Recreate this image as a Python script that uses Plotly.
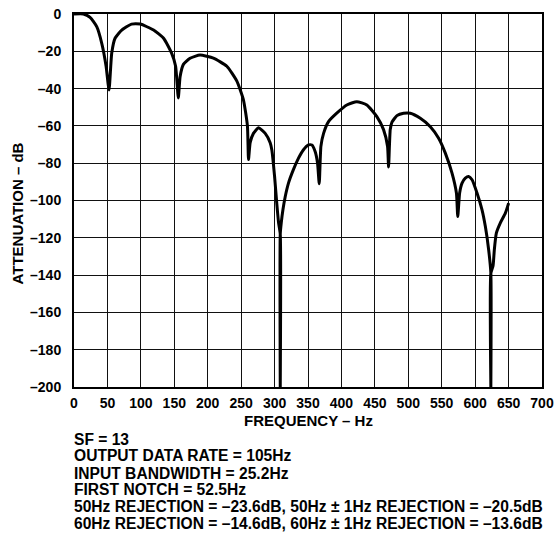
import plotly.graph_objects as go

# Frequency (Hz) and attenuation (dB)
freq_hz = [0, 14, 24, 34, 41.5, 48, 52.4, 56.4, 61.4, 71.4, 86, 99, 119, 134, 146, 152, 156,
           158.7, 163.6, 173.6, 188.6, 208.5, 228.6, 243.6, 253.4, 259.4, 261,
           263.5, 268.4, 276, 286, 293.4, 296, 300, 303.4, 306, 308.5, 308.5, 308.5, 310, 312.5,
           315.9, 320.8, 328, 335.8, 343, 350.7, 355.8, 360.8, 364.3, 366.8,
           369.3, 373.3, 380.7, 393, 408, 423, 438, 453, 463, 469, 470.5,
           473, 475.6, 483, 493, 503, 518, 533, 545.4, 555.4, 565.4, 572, 574,
           576.8, 580.4, 585.3, 590.3, 595.4, 602.8, 610.3, 615.3, 620.2, 623.5, 623.5, 623.5,
           626.8, 628.7, 631.7, 637.7, 645.2, 650.1]
atten_db = [0, 0, -1.8, -6.8, -15.7, -28, -40.7, -21, -13, -8.6, -5.4, -5.4, -8.6, -13, -21, -28, -45,
            -33.6, -27, -23.7, -22, -23.7, -28, -36, -46, -60, -78,
            -69, -64, -61, -64, -69, -73, -87, -102, -112, -118, -200, -118, -112, -105,
            -98, -90.7, -83.6, -77.3, -72.9, -70.2, -70.2, -73.8, -80, -91,
            -71, -64, -57.7, -53.2, -48.8, -47, -48.8, -55, -62, -71, -82,
            -62, -58, -54.5, -53.2, -53.2, -55.9, -60.4, -66.6, -74.6, -85.3, -96, -108.6,
            -96, -90.7, -88, -87.1, -88.9, -96, -105, -114, -126.4, -139, -200, -139,
            -135, -126.4, -117.5, -112, -106.8, -101.4]

x_ticks = [0, 50, 100, 150, 200, 250, 300, 350, 400, 450, 500, 550, 600, 650, 700]
y_ticks = [0, -20, -40, -60, -80, -100, -120, -140, -160, -180, -200]
y_ticktext = ["0" if v == 0 else "\u2013" + str(-v) for v in y_ticks]

x_title = "FREQUENCY \u2013 Hz"
y_title = "ATTENUATION \u2013 dB"
notes = [
    "SF = 13",
    "OUTPUT DATA RATE = 105Hz",
    "INPUT BANDWIDTH = 25.2Hz",
    "FIRST NOTCH = 52.5Hz",
    "50Hz REJECTION = \u201323.6dB, 50Hz \u00b1 1Hz REJECTION = \u201320.5dB",
    "60Hz REJECTION = \u201314.6dB, 60Hz \u00b1 1Hz REJECTION = \u201313.6dB",
]

FONT = "Liberation Sans, Arial, Helvetica, sans-serif"
W, H = 557, 547
L, R, T, B = 74, 15, 14, 160
plot_w = W - L - R
plot_h = H - T - B

fig = go.Figure()
fig.add_trace(go.Scatter(x=freq_hz, y=atten_db, mode="lines",
                         line=dict(color="black", width=3, shape="spline", smoothing=0.5),
                         hoverinfo="skip", showlegend=False))

fig.update_layout(
    width=W, height=H,
    margin=dict(l=L, r=R, t=T, b=B, pad=0, autoexpand=False),
    paper_bgcolor="white", plot_bgcolor="white",
    font=dict(family=FONT, size=14, color="black"),
    showlegend=False,
)
fig.update_xaxes(range=[0, 700], tickvals=x_ticks, ticks="", showgrid=True,
                 gridcolor="#111", gridwidth=1, zeroline=False, automargin=False,
                 showline=True, linecolor="black", linewidth=2, mirror=True,
                 tickfont=dict(family=FONT, size=14, color="black", weight="bold"),
                 ticklabelstandoff=2)
fig.update_yaxes(range=[-200, 0], tickvals=y_ticks, ticktext=y_ticktext, ticks="",
                 showgrid=True, gridcolor="#111", gridwidth=1, zeroline=False, automargin=False,
                 showline=True, linecolor="black", linewidth=2, mirror=True,
                 tickfont=dict(family=FONT, size=14, color="black", weight="bold"),
                 ticklabelstandoff=8)

def ypaper(px):
    return (H - B - px) / plot_h

def xpaper(px):
    return (px - L) / plot_w

ann = []
ann.append(dict(text="<b>%s</b>" % x_title, xref="paper", yref="paper", x=xpaper(308.5), y=ypaper(420),
                xanchor="center", yanchor="middle", showarrow=False,
                font=dict(family=FONT, size=15, color="black")))
ann.append(dict(text="<b>%s</b>" % y_title, xref="paper", yref="paper",
                x=xpaper(16.5), y=ypaper(214), textangle=-90,
                xanchor="center", yanchor="middle", showarrow=False,
                font=dict(family=FONT, size=15, color="black")))
line_y = [439, 456, 473, 489.5, 506, 523]
for txt, py in zip(notes, line_y):
    ann.append(dict(text="<b>%s</b>" % txt, xref="paper", yref="paper",
                    x=xpaper(72), y=ypaper(py),
                    xanchor="left", yanchor="middle", showarrow=False,
                    font=dict(family=FONT, size=15.6, color="black")))
fig.update_layout(annotations=ann)

fig.write_html("out.html", config={"displayModeBar": False},
               post_script="document.body.style.margin='0';")
